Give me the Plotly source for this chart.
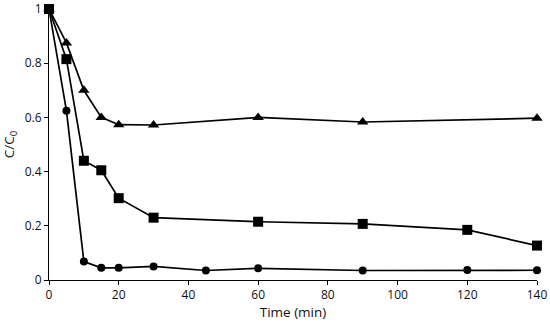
import plotly.graph_objects as go

t_circle = [0, 5, 10, 15, 20, 30, 45, 60, 90, 120, 140]
c_circle = [1.0, 0.625, 0.068, 0.045, 0.045, 0.05, 0.035, 0.043, 0.035, 0.037, 0.036]
t_square = [0, 5, 10, 15, 20, 30, 60, 90, 120, 140]
c_square = [1.0, 0.815, 0.44, 0.405, 0.302, 0.23, 0.215, 0.207, 0.185, 0.127]
t_tri = [0, 5, 10, 15, 20, 30, 60, 90, 140]
c_tri = [1.0, 0.875, 0.70, 0.60, 0.573, 0.572, 0.60, 0.583, 0.597]

x_ticks = [0, 20, 40, 60, 80, 100, 120, 140]
y_ticks = [0, 0.2, 0.4, 0.6, 0.8, 1]
y_labels = ["0", "0.2", "0.4", "0.6", "0.8", "1"]

fig = go.Figure()
for t, c, sym, sz in [(t_tri, c_tri, "triangle-up", 10),
                      (t_square, c_square, "square", 10),
                      (t_circle, c_circle, "circle", 8)]:
    fig.add_trace(go.Scatter(x=t, y=c, mode="lines+markers",
                             line=dict(color="black", width=1.7),
                             marker=dict(symbol=sym, size=sz, color="black"),
                             cliponaxis=False, showlegend=False))

fig.update_layout(
    width=550, height=326,
    margin=dict(l=49, r=13, t=9, b=46),
    paper_bgcolor="white", plot_bgcolor="white",
    font=dict(family="Open Sans", size=12, color="#111"),
    xaxis=dict(range=[0, 140], tickvals=x_ticks, showline=True, linecolor="black",
               linewidth=1, ticks="outside", ticklen=4, tickcolor="black",
               showgrid=False, zeroline=False, automargin=False,
               title=dict(text="Time (min)", font=dict(size=13.5, color="#111"), standoff=4)),
    yaxis=dict(range=[0, 1], tickvals=y_ticks, ticktext=y_labels, showline=True,
               linecolor="black", linewidth=1, ticks="outside", ticklen=4,
               tickcolor="black", showgrid=False, zeroline=False, automargin=False,
               title=dict(text="C/C<sub>0</sub>", font=dict(size=13.5, color="#111"), standoff=8)),
)
fig.write_html("out.html", config={"displayModeBar": False},
               post_script="document.body.style.margin='0';")
